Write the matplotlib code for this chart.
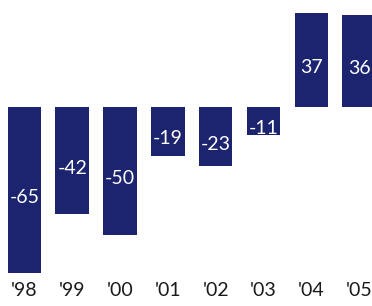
import matplotlib.pyplot as plt

years = ["'98", "'99", "'00", "'01", "'02", "'03", "'04", "'05"]
values = [-65, -42, -50, -19, -23, -11, 37, 36]

navy = "#1c2470"
plt.rcParams["font.family"] = ["Lato", "DejaVu Sans"]

fig = plt.figure(figsize=(3.72, 3.06), dpi=100)
ax = fig.add_axes([0, 28 / 306, 1, 278 / 306])

x = range(len(values))
bars = ax.bar(x, values, width=0.7, color=navy)

for xi, v in zip(x, values):
    ax.text(xi, v / 2 - 3, str(v), ha="center", va="center",
            color="white", fontsize=14)

ax.set_xlim(-0.51, 7.27)
ax.set_ylim(-67, 42)
ax.set_xticks(list(x))
ax.set_xticklabels(years, fontsize=14, color="#1a1a1a")
ax.tick_params(axis="x", length=0, pad=3)
ax.set_yticks([])
for s in ax.spines.values():
    s.set_visible(False)

fig.savefig("out.png", dpi=100)
plt.close(fig)
